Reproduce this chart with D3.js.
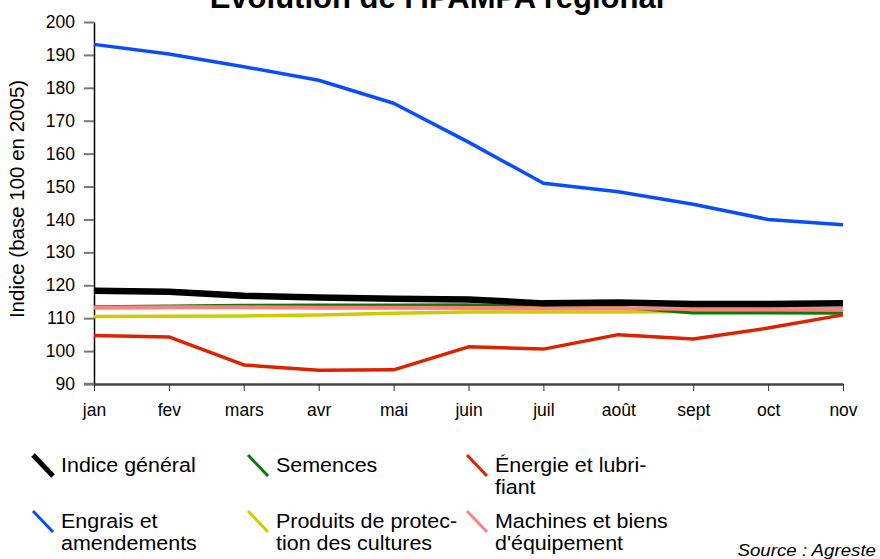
<!DOCTYPE html>
<html><head><meta charset="utf-8">
<script src="https://cdn.jsdelivr.net/npm/d3@7"></script>
<style>body{margin:0;background:#fff}svg{display:block;font-family:"Liberation Sans",Arial,sans-serif}</style>
</head><body><svg id="c" width="880" height="559"></svg>
<script>
const months = ["jan","fev","mars","avr","mai","juin","juil","août","sept","oct","nov"];
const yTicks = [90,100,110,120,130,140,150,160,170,180,190,200];
const indiceGeneral = [118.3,118.0,116.8,116.3,115.9,115.7,114.5,114.8,114.3,114.3,114.5];
const semences      = [113.5,113.7,113.9,114.0,114.0,114.1,113.6,113.3,111.6,111.6,111.5];
const energie       = [104.7,104.3,95.8,94.2,94.3,101.3,100.6,105.0,103.7,107.0,111.0];
const engrais       = [193.2,190.3,186.4,182.3,175.3,163.5,151.0,148.4,144.6,140.0,138.4];
const produits      = [110.5,110.6,110.7,111.0,111.5,111.9,111.9,111.9,112.0,112.1,112.2];
const machines      = [113.2,113.3,113.3,113.2,113.2,113.1,113.0,113.0,112.9,112.8,112.8];
const seriesNames = ["Indice général","Semences","Énergie et lubri-|fiant","Engrais et|amendements","Produits de protec-|tion des cultures","Machines et biens|d'équipement"];

const series = [
  {name:seriesNames[3], values:engrais, color:"#0a4dff", w:3.5},
  {name:seriesNames[4], values:produits, color:"#cccc00", w:3.5},
  {name:seriesNames[1], values:semences, color:"#0a7a0a", w:3},
  {name:seriesNames[5], values:machines, color:"#ff8080", w:4},
  {name:seriesNames[0], values:indiceGeneral, color:"#000000", w:6.5},
  {name:seriesNames[2], values:energie, color:"#dd2200", w:3.5}
];
const legendOrder = [0,1,2,3,4,5].map(i=>series.find(s=>s.name===seriesNames[i]));

const svg = d3.select("#c");
const x = d3.scalePoint().domain(months).range([94,843]);
const y = d3.scaleLinear().domain([90,200]).range([384,22]);

// title
svg.append("text").attr("x",437).attr("y",8).attr("text-anchor","middle")
  .attr("font-weight","bold").attr("font-size",31).text("Évolution de l'IPAMPA régional");

// y axis
const ya = svg.append("g").attr("transform","translate(94,0)")
  .call(d3.axisLeft(y).tickValues(yTicks).tickSize(10).tickPadding(9).tickSizeOuter(0));
ya.select(".domain").attr("stroke","#000").attr("stroke-width",1.5);
ya.selectAll(".tick line").attr("stroke","#777").attr("stroke-width",2);
ya.selectAll(".tick text").attr("font-size",17.5).attr("font-family","Liberation Sans, Arial, sans-serif").attr("fill","#000");

// x axis
const xa = svg.append("g").attr("transform","translate(0,384)")
  .call(d3.axisBottom(x).tickSize(7).tickPadding(13).tickSizeOuter(0));
xa.select(".domain").attr("stroke","#444").attr("stroke-width",2.5);
xa.selectAll(".tick line").attr("stroke","#333").attr("stroke-width",1);
xa.selectAll(".tick text").attr("font-size",17.5).attr("font-family","Liberation Sans, Arial, sans-serif").attr("fill","#000");
svg.append("line").attr("x1",84).attr("x2",94).attr("y1",384).attr("y2",384).attr("stroke","#777").attr("stroke-width",2.5);

// y title
svg.append("text").attr("transform","translate(24,"+((22+384)/2-4)+") rotate(-90)")
  .attr("text-anchor","middle").attr("font-size",20.5).text("Indice (base 100 en 2005)");

// lines
const line = d3.line().x((d,i)=>x(months[i])).y(d=>y(d));
svg.append("g").selectAll("path").data(series).join("path")
  .attr("d",d=>line(d.values)).attr("fill","none")
  .attr("stroke",d=>d.color).attr("stroke-width",d=>d.w).attr("stroke-linejoin","round");

// legend
const colX = [33,248,467], rowY = [455,511];
const lg = svg.append("g");
legendOrder.forEach((s,i)=>{
  const cx = colX[i%3], cy = rowY[Math.floor(i/3)];
  lg.append("line").attr("x1",cx).attr("y1",cy).attr("x2",cx+20).attr("y2",cy+21)
    .attr("stroke",s.color).attr("stroke-width",s.w>6?5:3);
  const t = lg.append("text").attr("transform","translate("+(cx+28)+","+(cy+17)+") scale(1.1,1)")
    .attr("font-size",19.5);
  s.name.split("|").forEach((part,j)=>{
    t.append("tspan").attr("x",0).attr("dy",j===0?0:22.5).text(part);
  });
});

svg.append("text").attr("transform","translate(876,556) scale(1.1,1)").attr("text-anchor","end")
  .attr("font-style","italic").attr("font-size",17).text("Source : Agreste");
</script></body></html>
